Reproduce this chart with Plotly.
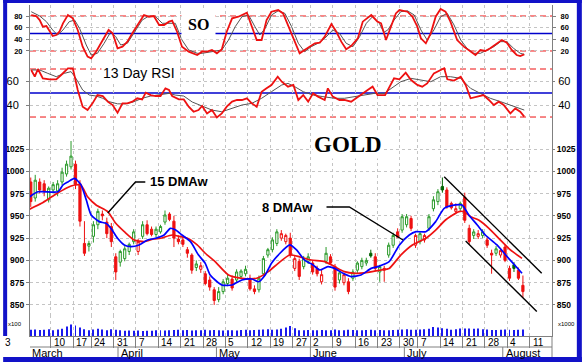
import plotly.graph_objects as go
import pandas as pd

# ---------------- data ----------------
holidays = pd.to_datetime(["2008-03-21", "2008-05-26", "2008-07-04"])
dates = [d for d in pd.bdate_range("2008-03-03", "2008-08-07") if d not in holidays]

opens = [988, 970, 988, 986, 968, 979, 978, 988, 997, 1005,
         1008, 986, 919, 916, 927, 940, 952, 943, 938, 904,
         898, 902, 910, 921, 910, 927, 940, 935, 929, 932,
         943, 952, 944, 924, 923, 912, 906, 892, 890, 885,
         878, 867, 856, 865, 874, 879, 878, 882, 885, 880,
         868, 867, 885, 906, 912, 919, 925, 921, 925, 891,
         899, 893, 899, 897, 891, 876, 899, 904, 893, 878,
         875, 876, 880, 889, 893, 897, 908, 904, 887, 891,
         906, 917, 932, 934, 940, 947, 917, 921, 923, 936,
         958, 966, 983, 979, 964, 955, 958, 971, 936, 928,
         927, 928, 923, 908, 908, 906, 915, 891, 895, 889,
         872]
highs = [993, 996, 992, 990, 983, 988, 990, 1004, 1012, 1034,
         1012, 990, 944, 922, 944, 958, 956, 948, 942, 908,
         912, 916, 920, 935, 924, 944, 945, 938, 938, 940,
         956, 954, 950, 928, 926, 915, 908, 900, 898, 888,
         882, 870, 870, 879, 884, 883, 890, 890, 894, 884,
         872, 883, 905, 914, 926, 935, 934, 930, 931, 905,
         902, 905, 908, 900, 894, 890, 915, 907, 896, 888,
         886, 880, 890, 899, 903, 903, 912, 908, 895, 894,
         920, 931, 936, 952, 952, 950, 930, 933, 930, 952,
         972, 980, 993, 982, 966, 964, 966, 976, 940, 935,
         934, 935, 926, 912, 916, 914, 918, 894, 898, 892,
         883]
lows = [960, 966, 975, 972, 965, 975, 972, 984, 994, 1002,
        980, 938, 905, 910, 920, 935, 945, 925, 915, 878,
        893, 899, 906, 918, 906, 924, 928, 927, 926, 930,
        940, 944, 915, 918, 915, 903, 885, 888, 886, 872,
        866, 850, 853, 862, 871, 866, 875, 879, 882, 866,
        862, 864, 883, 903, 909, 916, 922, 918, 903, 888,
        878, 890, 896, 884, 882, 873, 896, 895, 866, 874,
        872, 862, 877, 886, 890, 894, 903, 888, 876, 876,
        903, 914, 926, 931, 937, 933, 914, 918, 920, 933,
        955, 962, 976, 958, 957, 952, 955, 942, 918, 924,
        924, 925, 914, 885, 905, 903, 898, 877, 887, 878,
        858]
closes = [966, 990, 979, 977, 981, 985, 986, 999, 1008, 1017,
          985, 944, 908, 919, 940, 955, 950, 930, 921, 887,
          910, 913, 918, 932, 921, 940, 930, 929, 935, 938,
          951, 946, 925, 921, 918, 908, 889, 896, 894, 874,
          870, 855, 865, 876, 880, 869, 887, 888, 890, 868,
          865, 880, 902, 912, 923, 932, 930, 928, 906, 902,
          882, 902, 904, 887, 885, 884, 908, 897, 870, 886,
          884, 865, 887, 897, 900, 900, 905, 891, 893, 889,
          917, 928, 926, 949, 949, 936, 928, 930, 928, 949,
          968, 977, 979, 960, 959, 958, 964, 945, 921, 932,
          930, 932, 917, 906, 913, 911, 900, 880, 891, 880,
          865]
volumes = [60, 62, 58, 60, 65, 55, 62, 68, 90, 110,
           100, 80, 65, 55, 62, 68, 62, 55, 65, 60,
           55, 50, 52, 50, 52, 48, 50, 50, 55, 55,
           52, 55, 58, 60, 55, 58, 52, 55, 55, 60,
           55, 58, 55, 52, 55, 55, 52, 58, 60, 55,
           58, 60, 62, 65, 60, 62, 70, 80, 95, 75,
           55, 55, 58, 55, 55, 58, 55, 55, 62, 55,
           55, 60, 58, 55, 55, 58, 60, 55, 58, 55,
           55, 58, 60, 62, 65, 60, 60, 62, 65, 70,
           85, 80, 75, 70, 60, 65, 72, 72, 72, 70,
           72, 65, 62, 58, 58, 60, 62, 60, 58, 60,
           62]

# moving averages (x = trading-day index, y = price)
ma8_x = [-0.6, 1.6, 6.1, 7.2, 8.3, 9.8, 11.2, 12.4, 13.5, 15.3, 16.8, 17.9, 19.4, 20.9, 22.4, 24.2, 26.1,
         27.9, 29.8, 31.2, 32.4, 33.8, 35.7, 37.5, 39.0, 40.1, 42.7, 45.0, 47.2, 49.4, 50.9, 52.4, 53.8,
         55.7, 57.9, 59.4, 61.2, 63.1, 64.6, 66.4, 67.9, 69.8, 71.6, 73.8, 76.1, 77.6, 80.1, 82.4, 84.6,
         86.1, 88.3, 90.5, 92.4, 94.9, 96.4, 97.9, 99.8, 101.6, 104.2, 106.8, 109.8]
ma8_y = [970, 977, 977, 984.6, 988, 992, 985, 968, 951, 943.5, 941.6, 936, 924.8, 917.3, 915.4, 917.3, 922.9,
         924.8, 928.5, 936, 934.1, 928.5, 921, 906, 896.7, 883.6, 872.4, 872.4, 878, 879.1, 876, 883.6, 896.7,
         908, 917.3, 911.7, 900.4, 894.8, 889.2, 893, 891, 885.5, 881.8, 883.6, 891, 893, 898.6, 917.3, 928.5,
         932.2, 932.2, 943.5, 958.4, 962.2, 962.2, 951, 939.7, 928.5, 917.3, 902.3, 885.5]
ma15_x = [-0.6, 2.4, 5.3, 7.9, 9.8, 11.2, 12.7, 14.6, 17.2, 19.0, 20.9, 23.1, 25.3, 27.5, 29.0, 31.6, 33.5,
          35.0, 37.2, 39.0, 41.2, 44.2, 47.2, 50.5, 53.1, 55.3, 57.9, 60.1, 62.7, 65.7, 67.9, 70.1, 72.4,
          75.3, 78.3, 80.1, 82.7, 85.3, 88.3, 90.5, 92.7, 95.7, 96.8, 98.3, 100.1, 102.4, 104.6, 107.2, 109.8]
ma15_y = [956.6, 964, 973.4, 981, 984.6, 984.6, 971.5, 962.2, 954.7, 941.6, 932.2, 922.9, 921, 924, 924.8,
          928.5, 926.6, 924.8, 917.3, 908, 898.6, 883.6, 879.9, 879.9, 887.4, 896.7, 906, 904, 900.4, 898.6,
          893, 887.4, 885.5, 886.6, 889.2, 891, 906, 917.3, 924.8, 934, 945.3, 954.7, 954.7, 949, 945.3, 936,
          924.8, 911.7, 902.3]

# stochastic oscillator
so_k_x = [0.1, 1.2, 2.0, 2.7, 3.5, 4.2, 4.9, 5.7, 6.4, 7.2, 8.3, 9.4, 10.5, 11.6, 12.7, 13.5, 14.6, 16.1,
          17.4, 18.3, 19.4, 20.5, 21.6, 22.7, 23.8, 25.3, 26.4, 27.5, 28.7, 29.8, 30.9, 31.6, 32.7, 33.8,
          35.3, 37.2, 38.3, 39.4, 40.5, 41.6, 42.7, 43.8, 45.0, 46.4, 48.3, 49.4, 50.5, 51.6, 52.7, 53.8,
          55.3, 56.4, 57.5, 59.0, 60.1, 61.2, 62.4, 63.5, 64.6, 65.7, 67.2, 68.3, 69.4, 70.5, 71.6, 73.1,
          74.2, 76.1, 77.5, 78.3, 79.4, 80.5, 81.6, 82.4, 84.2, 85.3, 86.4, 87.2, 88.3, 89.4, 90.5, 91.6,
          92.7, 93.8, 95.3, 96.8, 98.3, 99.4, 100.5, 101.6, 102.7, 103.8, 105.3, 106.4, 107.5, 108.6,
          109.4, 110.3]
so_k = [81.7, 80, 73, 61.7, 62.8, 53, 45.7, 47.4, 53, 67.5, 81.7, 76, 56, 27.4, 10.2, 7.4, 18.8, 38.8,
        56, 50.3, 24.6, 27.4, 36, 50.3, 64.6, 81.7, 78.8, 80, 64.6, 64.6, 70.3, 72, 53, 27.4,
        18.8, 13.1, 18.8, 18.8, 21.7, 16, 22.8, 53, 76, 78.8, 85.7, 61.7, 38.8, 38.8, 73, 87.4,
        90.3, 84.5, 64.6, 38.8, 16, 21.7, 27.4, 33.2, 34.2, 44.5, 66.3, 53, 36, 22.8, 28.5, 41.6,
        70.3, 81.7, 70.3, 67.5, 38.8, 61.7, 84.5, 90.3, 87.4, 78.8, 61.7, 41.6, 33.2, 50.3, 78.8, 92,
        87.4, 70.3, 38.8, 27.4, 18.8, 13.1, 21.7, 20, 24.6, 30.3, 38.8, 34.2, 21.7, 13.1,
        11.3, 14.2]
so_d_x = [0.1, 2.0, 3.5, 4.9, 6.0, 7.2, 8.6, 9.8, 10.9, 12.4, 13.5, 14.9, 16.4, 17.9, 19.0, 20.1, 21.6,
          23.1, 24.9, 26.4, 27.9, 29.4, 30.9, 32.3, 33.8, 35.3, 37.2, 38.3, 40.5, 42.7, 44.2, 45.7, 47.2,
          48.7, 50.1, 51.2, 52.4, 53.8, 55.3, 56.8, 58.3, 59.8, 61.2, 62.7, 64.2, 65.7, 67.5, 69.0, 70.5,
          72.0, 73.5, 75.0, 76.4, 77.9, 78.9, 79.8, 81.2, 82.7, 84.2, 85.7, 87.2, 88.6, 90.1, 91.6, 93.1,
          94.6, 96.1, 97.5, 99.0, 100.5, 102.0, 103.5, 105.0, 106.4, 107.9, 109.4, 110.3]
so_d = [87.4, 80, 70.3, 56, 47.4, 56, 70.3, 73, 59, 30.3, 13.1, 16, 33.2, 53, 44.5, 30.3, 33.2,
        50.3, 73, 80, 78.8, 67.5, 67.5, 67.5, 38.8, 21.7, 16, 16, 18.8, 21.7, 38.8, 61.7, 78.8,
        81.7, 61.7, 47.4, 59, 81.7, 89, 84.5, 61.7, 33.2, 18.8, 27.4, 33.2, 41.6, 56, 50.3, 33.2,
        27.4, 44.5, 67.5, 78.8, 67.5, 52, 56, 73, 87.4, 89, 81.7, 56, 38.8, 56, 78.8, 84.5,
        64.6, 38.8, 24.6, 16, 16, 21.7, 27.4, 36, 36, 24.6, 16, 14.2]

# 13 day RSI
rsi_x = [0.1, 0.9, 1.6, 2.7, 4.2, 5.7, 6.8, 8.3, 9.4, 10.5, 11.6, 12.7, 13.8, 14.9, 16.1, 17.2, 18.3,
         19.4, 20.5, 21.6, 22.7, 23.8, 24.9, 25.7, 26.8, 27.9, 29.0, 30.1, 30.9, 31.6, 33.1, 34.2, 35.3,
         36.4, 37.5, 38.3, 39.4, 40.5, 41.6, 42.7, 43.8, 45.0, 46.1, 47.2, 48.3, 49.4, 50.5, 51.6, 52.7,
         53.8, 55.2, 56.1, 57.5, 58.7, 59.8, 60.9, 62.0, 63.1, 64.2, 65.7, 66.4, 67.5, 69.0, 70.1, 71.6,
         73.1, 74.2, 75.3, 76.4, 77.5, 79.2, 80.5, 81.2, 82.4, 83.8, 85.0, 86.4, 87.5, 88.6, 90.1, 91.6,
         92.4, 93.1, 94.6, 96.1, 97.2, 98.3, 99.8, 101.2, 102.4, 103.5, 104.6, 105.7, 107.2, 108.3,
         109.4, 110.3]
rsi = [69.2, 63.6, 70, 62.2, 61.4, 61.4, 65, 70.6, 70.6, 52.5, 38.6, 35.8, 41.4, 48.3, 47.5, 42.8, 40,
       33.6, 41.4, 41.4, 42.8, 45.6, 44.7, 50.3, 48.3, 47.5, 47.5, 53.9, 52.5, 47.5, 44.7, 44.7, 38.6,
       34.4, 35.8, 39.2, 33, 35.8, 29.7, 33, 38.6, 42.8, 44.2, 44.2, 45.6, 41.4, 38.6, 51.1, 53.9,
       56.7, 63.6, 59.4, 55.3, 56.7, 44.2, 48.3, 42.8, 49.7, 47, 44.2, 53.9, 47, 44.2, 44.2, 42.8,
       47, 49.7, 52.5, 55.3, 48.3, 48.3, 58, 62.2, 61.4, 67, 60.8, 56.7, 55.3, 58, 66.4, 69.2,
       70.6, 61.4, 60.3, 63.6, 56.7, 45.6, 47, 48.3, 44.2, 40, 42.8, 40, 33, 37.2,
       34.4, 30.3]
rsi_avg_x = [0.1, 2.0, 3.8, 5.7, 7.5, 9.0, 10.1, 11.6, 13.1, 14.6, 16.1, 17.5, 19.4, 21.2, 23.1, 24.9,
             26.8, 28.6, 30.9, 32.3, 34.2, 36.1, 37.9, 40.5, 42.7, 45.0, 47.2, 49.4, 51.6, 53.8, 56.1,
             57.5, 59.0, 60.9, 63.1, 65.3, 67.9, 70.1, 72.4, 74.6, 76.8, 79.0, 80.5, 82.7, 85.0, 87.2,
             89.4, 91.6, 93.8, 96.1, 98.3, 100.5, 102.7, 105.0, 107.2, 109.4, 110.3]
rsi_avg = [69.2, 69.2, 66.4, 63.6, 66.4, 67.8, 62.2, 52.5, 48.3, 47.5, 45.6, 42.8, 41, 41, 42.8, 45.6,
           47.5, 48.3, 49.7, 48.3, 47.5, 42.5, 39.7, 35.8, 34.4, 37.2, 40, 41.4, 45.6, 51.1, 56.7,
           58, 55.3, 51.1, 48.3, 47, 45.6, 45.6, 47, 48.3, 49.7, 49.7, 53.9, 59.4, 62.2, 60.8,
           59.4, 63.6, 63.6, 62.2, 53.9, 49.7, 45.6, 42.8, 40, 37.2, 35.8]

# trend channel drawn on the chart (day index, price)
chan_up_x, chan_up_y = [92.4, 114.2], [994, 885.5]
chan_lo_x, chan_lo_y = [97.2, 113.1], [921.8, 842.5]
# label pointers
ptr15_x, ptr15_y = [25.6, 23.4, 17.2], [988, 988, 953.2]
ptr8_x, ptr8_y = [66.1, 71.2, 83.2], [959.9, 959.9, 922.9]

so_ticks = [20, 40, 60, 80]
rsi_ticks = [40, 60]
price_ticks = [850, 875, 900, 925, 950, 975, 1000, 1025]
month_names = ["March", "April", "May", "June", "July", "August"]

# ---------------- layout geometry ----------------
W, H = 582, 362
L, R, T, B = 27, 552, 5, 336


def px(x):
    return (x - L) / (R - L)


def py(y):
    return (B - y) / (B - T)


n = len(dates)
idx = list(range(n))
assert all(len(a) == n for a in (opens, highs, lows, closes, volumes))

xr = [-0.17, 116.5]
RED = "#ee1111"
BLUE = "#0000ff"
GRAY = "#555555"
GREEN = "#2a9a2a"
DGREEN = "#006400"
FONT = "Arial, Liberation Sans, sans-serif"
SERIF = "Times New Roman, Liberation Serif, serif"

fig = go.Figure()

# --- candles (hollow-candle style) ---
groups = {"up_hollow": [], "down_fill": [], "green_fill": [], "red_hollow": []}
for i in idx:
    prev = closes[i - 1] if i > 0 else opens[i]
    if closes[i] >= opens[i]:
        groups["up_hollow" if closes[i] >= prev else "red_hollow"].append(i)
    else:
        groups["green_fill" if closes[i] > prev else "down_fill"].append(i)
styles = {"up_hollow": (GREEN, "white"), "down_fill": (RED, RED),
          "green_fill": (DGREEN, DGREEN), "red_hollow": (RED, "white")}
for g, ids in groups.items():
    if not ids:
        continue
    lc, fc = styles[g]
    fig.add_trace(go.Candlestick(
        x=ids, open=[opens[i] for i in ids], high=[highs[i] for i in ids],
        low=[lows[i] for i in ids], close=[closes[i] for i in ids],
        increasing=dict(line=dict(color=lc, width=1), fillcolor=fc),
        decreasing=dict(line=dict(color=lc, width=1), fillcolor=fc),
        yaxis="y3", hoverinfo="skip", showlegend=False))

fig.add_trace(go.Scatter(x=ma15_x, y=ma15_y, mode="lines", yaxis="y3",
                         line=dict(color=RED, width=1.7, shape="spline", smoothing=0.6), showlegend=False))
fig.add_trace(go.Scatter(x=ma8_x, y=ma8_y, mode="lines", yaxis="y3",
                         line=dict(color=BLUE, width=1.7, shape="spline", smoothing=0.6), showlegend=False))
for xs, ys in [(chan_up_x, chan_up_y), (chan_lo_x, chan_lo_y), (ptr15_x, ptr15_y), (ptr8_x, ptr8_y)]:
    fig.add_trace(go.Scatter(x=xs, y=ys, mode="lines", yaxis="y3",
                             line=dict(color="black", width=1.4), showlegend=False))

# --- SO ---
fig.add_trace(go.Scatter(x=so_d_x, y=so_d, mode="lines", yaxis="y",
                         line=dict(color=GRAY, width=1), showlegend=False))
fig.add_trace(go.Scatter(x=so_k_x, y=so_k, mode="lines", yaxis="y",
                         line=dict(color=RED, width=1.8), showlegend=False))
# --- RSI ---
fig.add_trace(go.Scatter(x=rsi_avg_x, y=rsi_avg, mode="lines", yaxis="y2",
                         line=dict(color=GRAY, width=1), showlegend=False))
fig.add_trace(go.Scatter(x=rsi_x, y=rsi, mode="lines", yaxis="y2",
                         line=dict(color=RED, width=1.8), showlegend=False))
# --- volume ---
fig.add_trace(go.Bar(x=idx, y=volumes, yaxis="y4", width=0.22, marker_color="#1a1aee",
                     marker_line_width=0, showlegend=False, hoverinfo="skip"))
# invisible traces for right-hand mirror axes
for ya in ["y5", "y6", "y7", "y8"]:
    fig.add_trace(go.Scatter(x=[0], y=[0], yaxis=ya, mode="markers",
                             marker=dict(opacity=0), showlegend=False, hoverinfo="skip"))

# ---------------- axes ----------------
week_start = [i for i in idx if i == 0 or dates[i].weekday() <= dates[i - 1].weekday()]
tick_pos = [i - 0.5 for i in week_start] + [week_start[-1] + 5 - 0.5]
tick_lab = [str(dates[i].day) for i in week_start] + \
           [str((dates[week_start[-1]] + pd.Timedelta(days=7)).day)]
month_start = [i for i in idx if i == 0 or dates[i].month != dates[i - 1].month]

grid = dict(showgrid=True, gridcolor="#c4c4c4", griddash="dot", gridwidth=1)
axline = dict(showline=True, linecolor="#808080", linewidth=1)

dom_so = [py(60), 1]
dom_rsi = [py(127), py(60)]
dom_price = [py(315), py(127)]
dom_vol = [0, py(315)]
so_range = [4.5, 98.9]
rsi_range = [21.7, 77.5]
price_range = [838.7, 1049.7]
vol_range = [0, 200]

fig.update_layout(
    width=W, height=H, autosize=False,
    margin=dict(l=L, r=W - R, t=T, b=H - B, pad=0),
    paper_bgcolor="white", plot_bgcolor="white",
    hovermode=False, showlegend=False, barmode="overlay",
    xaxis=dict(range=xr, tickvals=tick_pos, ticktext=[""] * len(tick_pos), ticks="outside",
               ticklen=11, tickcolor="#808080", anchor="y4", rangeslider=dict(visible=False),
               zeroline=False, **grid, **axline),
    yaxis=dict(domain=dom_so, range=so_range, tickvals=so_ticks, ticks="outside", ticklen=3,
               tickcolor="#808080", ticklabelstandoff=2,
               tickfont=dict(family=FONT, size=7.5, color="black", weight="bold"),
               zeroline=False, anchor="x", **grid, **axline),
    yaxis2=dict(domain=dom_rsi, range=rsi_range, tickvals=rsi_ticks, ticks="outside", ticklen=3,
                tickcolor="#808080", ticklabelstandoff=5,
                tickfont=dict(family=FONT, size=11, color="black"),
                zeroline=False, anchor="x", **grid, **axline),
    yaxis3=dict(domain=dom_price, range=price_range, tickvals=price_ticks, ticks="outside", ticklen=3,
                tickcolor="#808080", ticklabelstandoff=0,
                tickfont=dict(family=FONT, size=8.5, color="black", weight="bold"),
                zeroline=False, anchor="x", **grid, **axline),
    yaxis4=dict(domain=dom_vol, range=vol_range, showticklabels=False, ticks="",
                showgrid=False, zeroline=False, anchor="x", **axline),
    yaxis5=dict(overlaying="y", side="right", range=so_range, tickvals=so_ticks, ticks="outside",
                ticklen=3, tickcolor="#808080", ticklabelstandoff=3, showgrid=False, zeroline=False,
                tickfont=dict(family=FONT, size=7.5, color="black", weight="bold"), anchor="x", **axline),
    yaxis6=dict(overlaying="y2", side="right", range=rsi_range, tickvals=rsi_ticks, ticks="outside",
                ticklen=2, tickcolor="#808080", ticklabelstandoff=1, showgrid=False, zeroline=False,
                tickfont=dict(family=FONT, size=11, color="black"), anchor="x", **axline),
    yaxis7=dict(overlaying="y3", side="right", range=price_range, tickvals=price_ticks, ticks="outside",
                ticklen=2, tickcolor="#808080", ticklabelstandoff=0, showgrid=False, zeroline=False,
                tickfont=dict(family=FONT, size=8.5, color="black", weight="bold"), anchor="x", **axline),
    yaxis8=dict(overlaying="y4", side="right", range=vol_range, showticklabels=False, ticks="",
                showgrid=False, zeroline=False, anchor="x", **axline),
)

# ---------------- shapes ----------------
shapes = []
for v, c, d, w in [(80, RED, "6px,4px", 1), (20, RED, "6px,4px", 1), (50, "#0000cc", "solid", 1.6)]:
    shapes.append(dict(type="line", xref="paper", x0=0, x1=1, yref="y", y0=v, y1=v,
                       line=dict(color=c, dash=d, width=w), layer="below"))
for v, c, d, w in [(70, RED, "6px,4px", 1), (30, RED, "6px,4px", 1), (50, "#0000cc", "solid", 1.6)]:
    shapes.append(dict(type="line", xref="paper", x0=0, x1=1, yref="y2", y0=v, y1=v,
                       line=dict(color=c, dash=d, width=w), layer="below"))
# date box
shapes.append(dict(type="line", xref="paper", yref="paper", x0=0, x1=1, y0=py(347), y1=py(347),
                   line=dict(color="#808080", width=1)))
shapes.append(dict(type="line", xref="paper", yref="paper", x0=1, x1=1, y0=py(336), y1=py(357),
                   line=dict(color="#808080", width=1)))
for i in month_start[1:]:
    shapes.append(dict(type="line", xref="x", yref="paper", x0=i - 0.5, x1=i - 0.5,
                       y0=py(347), y1=py(357), line=dict(color="#808080", width=1)))
# blue frame
FR = "#1212c8"
shapes += [
    dict(type="line", xref="paper", yref="paper", x0=px(0), x1=px(582), y0=py(1.5), y1=py(1.5),
         line=dict(color=FR, width=3)),
    dict(type="line", xref="paper", yref="paper", x0=px(2), x1=px(2), y0=py(0), y1=py(336),
         line=dict(color=FR, width=4)),
    dict(type="line", xref="paper", yref="paper", x0=px(579.5), x1=px(579.5), y0=py(0), y1=py(362),
         line=dict(color=FR, width=5)),
    dict(type="line", xref="paper", yref="paper", x0=px(0), x1=px(582), y0=py(359.5), y1=py(359.5),
         line=dict(color=FR, width=5)),
]
fig.update_layout(shapes=shapes)

# ---------------- annotations ----------------
ann = []
for pos, lab in zip(tick_pos, tick_lab):
    if pos < xr[0]:
        ann.append(dict(xref="paper", x=px(0), yref="paper", y=py(342), text=lab, showarrow=False,
                        xanchor="left", yanchor="middle", font=dict(family=FONT, size=10, color="black")))
    else:
        ann.append(dict(xref="x", x=pos, yref="paper", y=py(342), text=lab, showarrow=False, xshift=1,
                        xanchor="left", yanchor="middle", font=dict(family=FONT, size=10, color="black")))
for i, name in zip(month_start, month_names):
    pos = i - 0.5
    if pos < xr[0]:
        ann.append(dict(xref="paper", x=0, yref="paper", y=py(352.5), text=name, showarrow=False,
                        xanchor="left", yanchor="middle", font=dict(family=FONT, size=11, color="black")))
    else:
        ann.append(dict(xref="x", x=pos, yref="paper", y=py(352.5), text=name, showarrow=False, xshift=1,
                        xanchor="left", yanchor="middle", font=dict(family=FONT, size=11, color="black")))

ann += [
    dict(xref="x", yref="y3", x=70.8, y=1030.6, text="GOLD", showarrow=False, bgcolor="white",
         font=dict(family=SERIF, size=23, color="black", weight="bold")),
    dict(xref="x", yref="y", x=37.6, y=64.6, text="SO", showarrow=False, bgcolor="white", borderpad=6,
         font=dict(family=SERIF, size=16, color="black", weight="bold")),
    dict(xref="x", yref="y2", x=24.3, y=66.7, text="13 Day RSI", showarrow=False, bgcolor="white",
         font=dict(family=FONT, size=14, color="black")),
    dict(xref="x", yref="y3", x=26.2, y=988, text="15 DMAw", showarrow=False, bgcolor="white",
         xanchor="left", font=dict(family=FONT, size=13, color="black", weight="bold")),
    dict(xref="x", yref="y3", x=63.6, y=959.9, text="8 DMAw", showarrow=False, bgcolor="white",
         xanchor="right", font=dict(family=FONT, size=13, color="black", weight="bold")),
    dict(xref="paper", yref="paper", x=px(3), y=py(329), text="x100", showarrow=False,
         xanchor="left", font=dict(family=FONT, size=6, color="black")),
    dict(xref="paper", yref="paper", x=px(556), y=py(329), text="x1000", showarrow=False,
         xanchor="left", font=dict(family=FONT, size=6, color="black")),
]
fig.update_layout(annotations=ann)

fig.write_html("out.html")
